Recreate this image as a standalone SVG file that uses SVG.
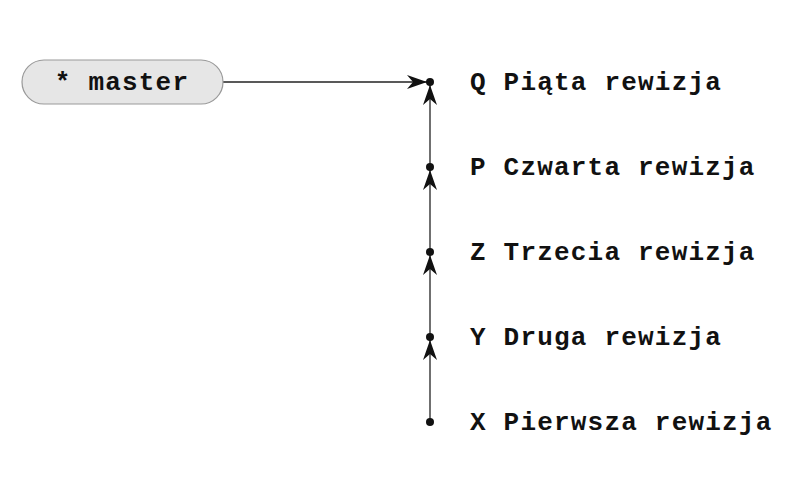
<svg xmlns="http://www.w3.org/2000/svg" width="800" height="500" viewBox="0 0 800 500">
<style>
.lbl{font-family:"Liberation Mono","Courier New",monospace;font-weight:bold;font-size:26px;letter-spacing:1.2px;fill:#111}
.edge{stroke:#222;stroke-width:1.3;fill:none}
.dot{fill:#111}
</style>
<defs>
<marker id="ah" viewBox="0 0 20 14" refX="20" refY="7" markerWidth="20" markerHeight="14" markerUnits="userSpaceOnUse" orient="auto">
<path d="M0,0 L20,7 L0,14 L6,7 Z" fill="#111"/>
</marker>
</defs>
<rect width="800" height="500" fill="#fff"/>
<g id="connectors">
<path class="edge" d="M223,82 L427,82" marker-end="url(#ah)"/>
<path class="edge" d="M430,167 L430,85" marker-end="url(#ah)"/>
<path class="edge" d="M430,252 L430,170" marker-end="url(#ah)"/>
<path class="edge" d="M430,337 L430,255" marker-end="url(#ah)"/>
<path class="edge" d="M430,422 L430,340" marker-end="url(#ah)"/>
</g>
<g id="master">
<rect x="22" y="60" width="201" height="44" rx="22" fill="#e6e6e6" stroke="#999" stroke-width="1.2"/>
<text class="lbl" x="122" y="90" text-anchor="middle">* master</text>
</g>
<g id="Q"><circle class="dot" cx="430" cy="82" r="4"/><text class="lbl" x="470" y="90">Q Piąta rewizja</text></g>
<g id="P"><circle class="dot" cx="430" cy="167" r="4"/><text class="lbl" x="470" y="175">P Czwarta rewizja</text></g>
<g id="Z"><circle class="dot" cx="430" cy="252" r="4"/><text class="lbl" x="470" y="260">Z Trzecia rewizja</text></g>
<g id="Y"><circle class="dot" cx="430" cy="337" r="4"/><text class="lbl" x="470" y="345">Y Druga rewizja</text></g>
<g id="X"><circle class="dot" cx="430" cy="422" r="4"/><text class="lbl" x="470" y="430">X Pierwsza rewizja</text></g>
</svg>
